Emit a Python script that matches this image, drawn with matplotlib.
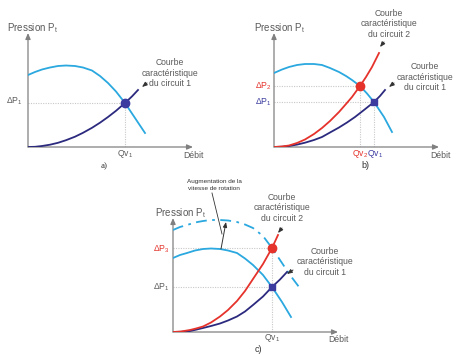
import matplotlib
matplotlib.use("Agg")
import matplotlib.pyplot as plt

plt.rcParams['font.family'] = ['Liberation Sans', 'DejaVu Sans']
plt.rcParams['mathtext.fontset'] = 'custom'
plt.rcParams['mathtext.rm'] = 'Liberation Sans'
plt.rcParams['mathtext.it'] = 'Liberation Sans'

# ---------------- data (flow Q, pressure P, arbitrary units) ----------------
# panel a
a_pump_q = [0, 7, 14, 22, 30, 38, 47, 55, 64, 72, 80, 88, 97, 107, 117]
a_pump_p = [72, 75, 77.5, 79.5, 81, 81.5, 81, 79.5, 76.5, 71, 64, 55.5, 44, 29, 14]
a_c1_q = [0, 7, 14, 22, 30, 38, 47, 55, 64, 72, 80, 88, 97, 104, 110]
a_c1_p = [0, 0.2, 1, 2.3, 4.2, 6.8, 10.3, 14.2, 19.2, 24.3, 30, 36.2, 44, 50.6, 57]
a_op1 = (97, 44)

# panel b
b_pump_q = [0, 8, 15, 23, 31, 40, 48, 56, 65, 72, 78, 86, 93, 100, 110, 118]
b_pump_p = [74, 77.5, 80, 82, 83, 83, 82, 79, 75, 71, 67, 61, 53.5, 45, 30, 15]
b_c2_q = [0, 8, 15, 23, 31, 40, 48, 56, 65, 72, 78, 86, 92, 98, 105]
b_c2_p = [0, 0.5, 1.5, 4, 7.5, 13, 19, 26, 35, 43, 50, 61, 70, 80, 94]
b_c1_q = [0, 8, 15, 23, 31, 40, 48, 56, 65, 73, 81, 90, 100, 106, 111]
b_c1_p = [0, 0.3, 1, 2.4, 4.3, 7, 10, 14.5, 19.5, 24.5, 30, 37, 45, 51, 57]
b_op2 = (86, 61)
b_op1 = (100, 45)

# panel c
c_pump_q = [0, 7, 14, 22, 30, 38, 47, 55, 64, 72, 80, 90, 99, 109, 118]
c_pump_p = [74, 77, 79, 81.5, 83, 83.5, 83, 81.5, 79, 73.5, 67, 57, 45, 30, 15]
c_fast_q = [0, 7, 14, 22, 30, 38, 47, 55, 64, 72, 80, 90, 99, 109, 117, 126]
c_fast_p = [102, 105, 107, 109.5, 111, 112, 112, 111.5, 110, 107.5, 104, 96, 84, 69, 57, 45]
c_c2_q = [0, 8, 17, 23, 30, 38, 47, 55, 64, 72, 80, 90, 99, 105]
c_c2_p = [0, 0.5, 2, 3.5, 5.5, 9.5, 15.5, 22, 31, 41, 53, 68, 84, 97]
c_c1_q = [0, 8, 17, 23, 30, 38, 47, 55, 64, 72, 80, 90, 99, 107, 114]
c_c1_p = [0, 0.2, 1, 2.3, 4, 6, 8.5, 11.5, 15.5, 20.5, 27, 35.5, 45, 52.5, 60]
c_op3 = (99, 84)
c_op1 = (99, 45)

# ---------------- style ----------------
CYAN = '#2aa8df'
NAVY = '#2c2a7e'
RED = '#e5322b'
PT_BLUE = '#3b3ba0'
GRAY = '#5a5a5a'
AXC = '#808080'
GRID = '#c8c8c8'
FS = 6.2
LW = 1.3

W, H = 474, 355
fig = plt.figure(figsize=(W / 100, H / 100), dpi=100)
fig.patch.set_facecolor('white')

AX_W, AX_H = 165, 114


def make_axes(ox, oy):
    ax = fig.add_axes([ox / W, (H - oy) / H, AX_W / W, AX_H / H])
    ax.set_xlim(0, AX_W)
    ax.set_ylim(0, AX_H)
    ax.axis('off')
    ax.annotate('', xy=(0, AX_H), xytext=(0, 0), annotation_clip=False,
                arrowprops=dict(arrowstyle='-|>,head_length=0.35,head_width=0.15',
                                color=AXC, lw=0.9, shrinkA=0, shrinkB=0))
    ax.annotate('', xy=(AX_W, 0), xytext=(0, 0), annotation_clip=False,
                arrowprops=dict(arrowstyle='-|>,head_length=0.35,head_width=0.15',
                                color=AXC, lw=0.9, shrinkA=0, shrinkB=0))
    return ax


def hguide(ax, pt):
    ax.plot([0, pt[0]], [pt[1], pt[1]], ls=(0, (1, 1.2)), color=GRID, lw=0.8, zorder=1)


def vguide(ax, pt):
    ax.plot([pt[0], pt[0]], [0, pt[1]], ls=(0, (1, 1.2)), color=GRID, lw=0.8, zorder=1)


def small_arrow(ax, start, end):
    ax.annotate('', xy=end, xytext=start, annotation_clip=False,
                arrowprops=dict(arrowstyle='-|>,head_length=0.3,head_width=0.12',
                                color='#333333', lw=0.7, shrinkA=0, shrinkB=0))


def courbe(ax, x, y, n):
    ax.text(x, y, 'Courbe\ncaractéristique\ndu circuit %d' % n, ha='center',
            va='center', fontsize=FS, color=GRAY, linespacing=1.15, clip_on=False)


def pression(ax, x):
    ax.text(x, 119, r'Pression P$_{\mathregular{t}}$', ha='left', va='center',
            fontsize=7, color=GRAY, clip_on=False)


def debit(ax, x, y):
    ax.text(x, y, 'Débit', ha='center', va='center', fontsize=FS, color=GRAY,
            clip_on=False)


# ---------------- panel a ----------------
ax = make_axes(28, 147)
hguide(ax, a_op1)
vguide(ax, a_op1)
ax.plot(a_pump_q, a_pump_p, color=CYAN, lw=LW, zorder=3)
ax.plot(a_c1_q, a_c1_p, color=NAVY, lw=LW, zorder=3)
ax.plot(*a_op1, 'o', color=PT_BLUE, ms=6, zorder=5)
pression(ax, -21)
ax.text(-5, 46, r'ΔP$_{\mathregular{1}}$', ha='right', va='center', fontsize=FS,
        color=GRAY)
ax.text(a_op1[0], -7, r'Qv$_{\mathregular{1}}$', ha='center', va='center',
        fontsize=FS, color=GRAY)
debit(ax, 165, -8)
ax.text(76, -19, 'a)', ha='center', va='center', fontsize=6.5, color='#333333',
        family=['Liberation Serif', 'DejaVu Serif'])
courbe(ax, 142, 74, 1)
small_arrow(ax, (119, 64), (114, 60))

# ---------------- panel b ----------------
ax = make_axes(274, 147)
hguide(ax, b_op2)
vguide(ax, b_op2)
hguide(ax, b_op1)
vguide(ax, b_op1)
ax.plot(b_pump_q, b_pump_p, color=CYAN, lw=LW, zorder=3)
ax.plot(b_c1_q, b_c1_p, color=NAVY, lw=LW, zorder=3)
ax.plot(b_c2_q, b_c2_p, color=RED, lw=LW, zorder=3)
ax.plot(*b_op2, 'o', color=RED, ms=6, zorder=5)
ax.plot(*b_op1, 's', color=PT_BLUE, ms=5, zorder=5)
pression(ax, -20)
ax.text(-2, b_op2[1], r'ΔP$_{\mathregular{2}}$', ha='right', va='center',
        fontsize=FS, color=RED)
ax.text(-2, b_op1[1], r'ΔP$_{\mathregular{1}}$', ha='right', va='center',
        fontsize=FS, color=PT_BLUE)
ax.text(b_op2[0], -7, r'Qv$_{\mathregular{2}}$', ha='center', va='center',
        fontsize=FS, color=RED)
ax.text(b_op1[0] + 1, -7, r'Qv$_{\mathregular{1}}$', ha='center', va='center',
        fontsize=FS, color=PT_BLUE)
debit(ax, 166, -8)
ax.text(91, -18, 'b)', ha='center', va='center', fontsize=6.5, color='#333333')
courbe(ax, 115, 123, 2)
small_arrow(ax, (110, 105), (106, 100))
courbe(ax, 151, 70, 1)
small_arrow(ax, (120, 64), (115, 60))

# ---------------- panel c ----------------
ax = make_axes(173, 332)
hguide(ax, c_op3)
hguide(ax, c_op1)
vguide(ax, c_op3)
ax.plot(c_fast_q, c_fast_p, color=CYAN, lw=LW, ls=(0, (6, 3, 1.5, 3)), zorder=3)
ax.plot(c_pump_q, c_pump_p, color=CYAN, lw=LW, zorder=3)
ax.plot(c_c1_q, c_c1_p, color=NAVY, lw=LW, zorder=3)
ax.plot(c_c2_q, c_c2_p, color=RED, lw=LW, zorder=3)
ax.plot(*c_op3, 'o', color=RED, ms=6, zorder=5)
ax.plot(*c_op1, 's', color=PT_BLUE, ms=5, zorder=5)
pression(ax, -18)
ax.text(-3, c_op3[1] - 1, r'ΔP$_{\mathregular{3}}$', ha='right', va='center',
        fontsize=FS, color=RED)
ax.text(-3, c_op1[1], r'ΔP$_{\mathregular{1}}$', ha='right', va='center',
        fontsize=FS, color=GRAY)
ax.text(c_op1[0], -6, r'Qv$_{\mathregular{1}}$', ha='center', va='center',
        fontsize=FS, color=GRAY)
debit(ax, 165, -7)
ax.text(85, -18, 'c)', ha='center', va='center', fontsize=6.5, color='#333333')
courbe(ax, 109, 124, 2)
small_arrow(ax, (109, 104), (105, 99))
courbe(ax, 152, 70, 1)
small_arrow(ax, (120, 62), (114, 58))
ax.text(41, 147, 'Augmentation de la\nvitesse de rotation', ha='center',
        va='center', fontsize=4.6, color='#333333', linespacing=1.3, clip_on=False)
ax.plot([39, 49], [139, 98], color='#333333', lw=0.6, clip_on=False)
small_arrow(ax, (48, 83), (53, 110))

fig.savefig('out.png', dpi=100, facecolor='white')
